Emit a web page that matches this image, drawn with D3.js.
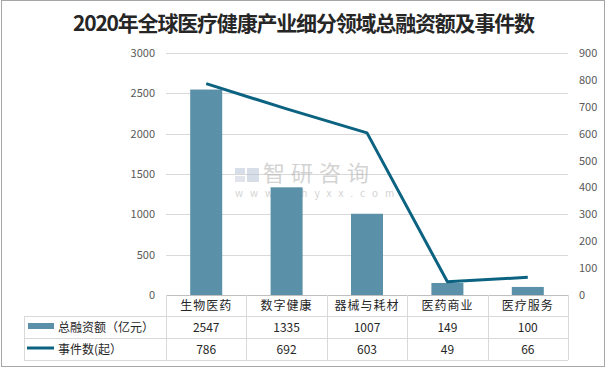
<!DOCTYPE html>
<html><head><meta charset="utf-8">
<script src="https://cdn.jsdelivr.net/npm/d3@7"></script>
<style>body{margin:0;background:#fff}svg{display:block}</style>
</head><body>
<svg id="c" width="609" height="369"></svg>
<script>
const title = "2020年全球医疗健康产业细分领域总融资额及事件数";
const categories = ["生物医药","数字健康","器械与耗材","医药商业","医疗服务"];
const amount = [2547,1335,1007,149,100];
const events = [786,692,603,49,66];
const seriesNames = ["总融资额（亿元）","事件数(起）"];
const leftTicks = [0,500,1000,1500,2000,2500,3000];
const rightTicks = [0,100,200,300,400,500,600,700,800,900];

const barColor = "#5b91a8", lineColor = "#0c6381", grid = "#d9d9d9", tickColor = "#595959";
const font = "'Noto Sans CJK SC','Noto Sans',sans-serif";
const svg = d3.select("#c");

svg.append("rect").attr("x",1.5).attr("y",0.5).attr("width",603).attr("height",366)
  .attr("fill","#fff").attr("stroke","#a6a6a6").attr("stroke-width",1);

svg.append("text").attr("x",304).attr("y",31).attr("text-anchor","middle")
  .attr("font-family",font).attr("font-weight","bold").attr("font-size",21)
  .attr("fill","#262626").attr("textLength",462).attr("lengthAdjust","spacing").text(title);

const x0 = 166, x1 = 568, yTop = 53, yBot = 295;
const x = d3.scaleBand().domain(categories).range([x0,x1]);
const yL = d3.scaleLinear().domain([0,3000]).range([yBot,yTop]);
const yR = d3.scaleLinear().domain([0,900]).range([yBot,yTop]);

// gridlines
svg.append("g").selectAll("line").data(leftTicks.filter(d=>d>0)).join("line")
  .attr("x1",x0).attr("x2",x1).attr("y1",d=>Math.round(yL(d))+0.5).attr("y2",d=>Math.round(yL(d))+0.5)
  .attr("stroke",grid);

// left axis
const la = svg.append("g").attr("transform",`translate(${x0},0)`)
  .call(d3.axisLeft(yL).tickValues(leftTicks).tickFormat(d3.format("d")).tickSize(0).tickPadding(11));
la.select(".domain").remove();
la.selectAll("text").attr("font-family",font).attr("font-size",11).attr("fill",tickColor);

// right axis
const ra = svg.append("g").attr("transform",`translate(${x1},0)`)
  .call(d3.axisRight(yR).tickValues(rightTicks).tickFormat(d3.format("d")).tickSize(0).tickPadding(11));
ra.select(".domain").remove();
ra.selectAll("text").attr("font-family",font).attr("font-size",11).attr("fill",tickColor);

// watermark
const wm = svg.append("g").attr("opacity",0.55);
wm.append("rect").attr("x",235).attr("y",168).attr("width",10).attr("height",6).attr("fill","#b8c4d6");
wm.append("rect").attr("x",247).attr("y",168).attr("width",12).attr("height",14).attr("fill","#b8c4d6");
wm.append("rect").attr("x",235).attr("y",176).attr("width",10).attr("height",6).attr("fill","#c9d0dc");
wm.append("text").attr("x",263).attr("y",181).attr("font-family",font).attr("font-size",22)
  .attr("fill","#b0b0b0").attr("letter-spacing",6).text("智研咨询");
wm.append("text").attr("x",235).attr("y",197).attr("font-family",font).attr("font-size",10)
  .attr("fill","#b0b0b0").attr("letter-spacing",7).text("www.chyxx.com");

// bars
const bw = 32;
svg.append("g").selectAll("rect").data(amount).join("rect")
  .attr("x",(d,i)=>x(categories[i])+x.bandwidth()/2-bw/2).attr("width",bw)
  .attr("y",d=>yL(d)).attr("height",d=>yBot-yL(d)).attr("fill",barColor);

// line
const line = d3.line().x((d,i)=>x(categories[i])+x.bandwidth()/2).y(d=>yR(d));
svg.append("path").datum(events).attr("d",line).attr("fill","none")
  .attr("stroke",lineColor).attr("stroke-width",3).attr("stroke-linejoin","round");

// data table
const rows = [yBot, 316, 338, 360];
const tl = 24;
const tg = svg.append("g").attr("stroke",grid).attr("stroke-width",1).attr("shape-rendering","crispEdges");
tg.append("line").attr("x1",x0).attr("x2",x1).attr("y1",rows[0]+0.5).attr("y2",rows[0]+0.5).attr("stroke","#bfbfbf");
rows.slice(1).forEach(r=>tg.append("line").attr("x1",tl).attr("x2",x1).attr("y1",r+0.5).attr("y2",r+0.5));
tg.append("line").attr("x1",tl+0.5).attr("x2",tl+0.5).attr("y1",rows[1]).attr("y2",rows[3]);
const cols = categories.map(c=>x(c)).concat([x1]);
cols.forEach(cx=>tg.append("line").attr("x1",Math.round(cx)+0.5).attr("x2",Math.round(cx)+0.5).attr("y1",rows[0]).attr("y2",rows[3]));

const tt = svg.append("g").attr("font-family",font).attr("font-size",12).attr("fill","#262626").attr("text-anchor","middle");
categories.forEach((c,i)=>{
  const cx = x(c)+x.bandwidth()/2;
  tt.append("text").attr("x",cx).attr("y",310).attr("letter-spacing",1).text(c);
  tt.append("text").attr("x",cx).attr("y",332).text(amount[i]);
  tt.append("text").attr("x",cx).attr("y",354).text(events[i]);
});
// legend keys
svg.append("rect").attr("x",28).attr("y",323).attr("width",26).attr("height",6).attr("fill",barColor);
svg.append("line").attr("x1",27).attr("x2",54).attr("y1",348).attr("y2",348).attr("stroke",lineColor).attr("stroke-width",3);
const lt = svg.append("g").attr("font-family",font).attr("font-size",12).attr("fill","#262626");
lt.append("text").attr("x",58).attr("y",332).text(seriesNames[0]);
lt.append("text").attr("x",58).attr("y",354).text(seriesNames[1]);
</script>
</body></html>
